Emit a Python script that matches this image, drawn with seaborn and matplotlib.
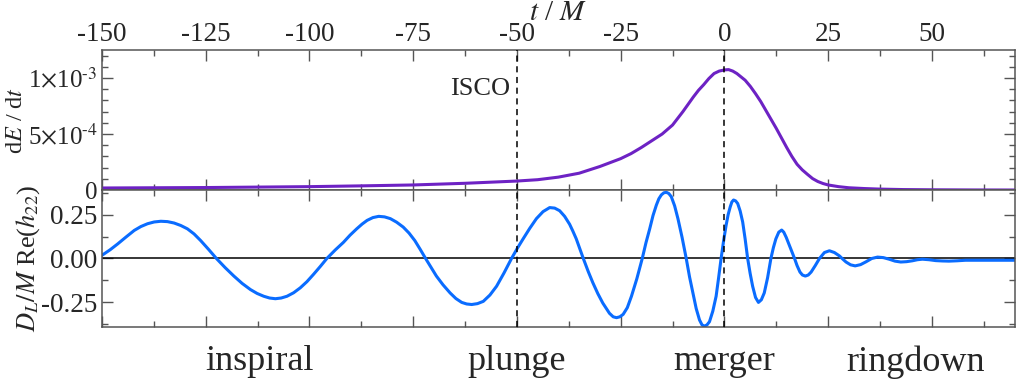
import numpy as np
import matplotlib
matplotlib.use('Agg')
import matplotlib.pyplot as plt
from matplotlib.ticker import MultipleLocator
import seaborn as sns

sns.set_style('ticks')
plt.rcParams['font.family'] = ['Liberation Serif', 'DejaVu Serif']
plt.rcParams['mathtext.fontset'] = 'stix'
plt.rcParams['axes.unicode_minus'] = False

# energy flux dE/dt (units of 1e-4)
t_flux = [-150, -137.5, -125, -112.5, -100, -87.5, -75, -62.5, -55, -50, -45, -40, -35,
          -30, -27.5, -25, -22.5, -20, -17.5, -15, -12.5, -11.25, -10, -8.75, -7.5,
          -6.25, -5, -3.75, -2.5, -1.25, 0, 1, 2, 3, 4, 5, 6.25, 7.5, 8.75, 10,
          11.25, 12.5, 13.75, 15, 16.25, 17.5, 18.75, 20, 21.25, 22.5, 23.75, 25,
          27.5, 30, 33.75, 37.5, 43, 50, 60, 70]
flux = [0.18, 0.2, 0.22, 0.26, 0.3, 0.37, 0.45, 0.6, 0.72, 0.8, 0.92, 1.15, 1.5,
        2.1, 2.45, 2.8, 3.25, 3.8, 4.4, 5.0, 5.8, 6.4, 7.0, 7.65, 8.3,
        8.9, 9.4, 9.95, 10.4, 10.62, 10.72, 10.75, 10.62, 10.4, 10.1, 9.8, 9.25, 8.6, 7.9, 7.1,
        6.3, 5.5, 4.65, 3.8, 3.0, 2.3, 1.8, 1.4, 1.02, 0.76, 0.58, 0.45,
        0.3, 0.2, 0.13, 0.08, 0.04, 0.02, 0.005, 0.0]

# waveform D_L/M Re(h22)
t_wave = [-150, -148, -146.2, -144.2, -142.2, -140.6, -139.0, -137.4, -135.8, -134.2,
          -132.6, -131.0, -129.4, -127.8, -126.2, -124.3, -122.4, -120.3, -118.2, -116.2,
          -114.2, -112.6, -111.0, -109.6, -108.2, -106.8, -105.4, -103.8, -102.2, -100.6,
          -99.0, -97.4, -95.8, -93.8, -91.8, -90.2, -88.6, -87.3, -86.1, -84.7,
          -83.3, -81.9, -80.5, -79.0, -77.4, -76.0, -74.6, -73.3, -72.0, -70.7,
          -69.4, -67.8, -66.1, -64.7, -63.3, -62.1, -60.9, -59.5, -58.1, -56.5,
          -54.9, -53.1, -51.3, -49.9, -48.5, -46.9, -45.3, -43.7, -42.1, -40.9,
          -39.7, -38.5, -37.3, -36.5, -35.7, -34.0, -32.8, -31.7, -30.5, -29.3,
          -27.7, -26.8, -26.0, -25.2, -24.4, -23.4, -22.4, -21.1, -19.8, -18.9,
          -18.0, -17.2, -16.4, -15.8, -15.2, -14.6, -14.0, -13.4, -12.8, -12.0,
          -11.2, -10.2, -9.2, -8.4, -7.6, -6.8, -6.0, -5.4, -4.8, -4.2,
          -3.6, -2.8, -2.0, -1.4, -0.8, -0.2, 0.4, 0.9, 1.4, 1.8,
          2.2, 2.7, 3.2, 3.8, 4.4, 5.0, 5.6, 6.2, 6.8, 7.5,
          8.2, 8.9, 9.6, 10.4, 11.2, 11.8, 12.4, 13.1, 13.8, 14.3,
          14.9, 15.9, 16.9, 17.5, 18.2, 18.8, 19.5, 20.2, 20.9, 21.9,
          22.9, 24.1, 25.3, 26.5, 27.7, 28.5, 29.3, 30.4, 31.5, 32.8,
          34.1, 35.5, 36.9, 38.3, 39.7, 41.1, 42.5, 43.9, 45.3, 46.5,
          47.7, 49.3, 50.9, 52.5, 54.1, 56.1, 58.1, 62.9, 70]
wave = [0.018, 0.050, 0.083, 0.122, 0.160, 0.182, 0.198, 0.208, 0.212, 0.210,
        0.202, 0.188, 0.169, 0.140, 0.102, 0.052, 0.0, -0.052, -0.100, -0.142,
        -0.177, -0.199, -0.215, -0.225, -0.229, -0.225, -0.215, -0.195, -0.167, -0.132,
        -0.090, -0.046, 0.0, 0.048, 0.092, 0.133, 0.169, 0.196, 0.217, 0.233,
        0.240, 0.237, 0.227, 0.207, 0.179, 0.145, 0.102, 0.052, 0.0, -0.050,
        -0.100, -0.150, -0.196, -0.228, -0.250, -0.259, -0.262, -0.257, -0.244, -0.208,
        -0.158, -0.082, 0.0, 0.058, 0.112, 0.172, 0.227, 0.267, 0.290, 0.287,
        0.272, 0.240, 0.195, 0.155, 0.112, 0.0, -0.075, -0.138, -0.200, -0.254,
        -0.312, -0.332, -0.337, -0.332, -0.318, -0.280, -0.215, -0.115, 0.0, 0.090,
        0.169, 0.245, 0.304, 0.340, 0.362, 0.374, 0.377, 0.370, 0.352, 0.300,
        0.227, 0.120, 0.0, -0.105, -0.196, -0.285, -0.350, -0.378, -0.385, -0.378,
        -0.360, -0.300, -0.215, -0.110, 0.0, 0.100, 0.188, 0.250, 0.294, 0.322,
        0.333, 0.328, 0.313, 0.270, 0.208, 0.110, 0.0, -0.085, -0.158, -0.222,
        -0.250, -0.235, -0.196, -0.110, 0.0, 0.062, 0.112, 0.150, 0.162, 0.150,
        0.120, 0.060, 0.0, -0.040, -0.077, -0.094, -0.100, -0.094, -0.077, -0.040,
        0.0, 0.034, 0.044, 0.034, 0.015, -0.003, -0.020, -0.036, -0.042, -0.035,
        -0.019, 0.0, 0.008, 0.005, -0.004, -0.015, -0.020, -0.018, -0.013, -0.007,
        -0.004, -0.007, -0.012, -0.014, -0.015, -0.013, -0.010, -0.010, -0.010]

event_t = [-50, 0]
phase_names = ['inspiral', 'plunge', 'merger', 'ringdown']
phase_t = [-112, -50, 0, 46]

purple = '#6d22c4'
blue = '#0a6cff'
frame = '#555555'

fig = plt.figure(figsize=(10.19, 3.82), dpi=100)
ax1 = fig.add_axes([0.100, 0.5026, 0.896, 0.3665])
ax2 = fig.add_axes([0.100, 0.144, 0.896, 0.3586], sharex=ax1)

sns.lineplot(x=t_flux, y=np.array(flux) * 1e-4, ax=ax1, color=purple, lw=2.2)
sns.lineplot(x=t_wave, y=wave, ax=ax2, color=blue, lw=2.2)
ax2.axhline(0, color='black', lw=1.1, zorder=1)

for ax in (ax1, ax2):
    for te in event_t:
        ax.axvline(te, color='black', lw=1.1, ls=(0, (4, 3)), zorder=3)
    for s in ax.spines.values():
        s.set_color(frame)
        s.set_linewidth(1.1)
    ax.tick_params(which='both', direction='in', top=True, right=True,
                   color=frame, labelsize=19.5, width=1.0)
    ax.tick_params(which='major', length=8)
    ax.tick_params(which='minor', length=4.5)
    ax.xaxis.set_major_locator(MultipleLocator(25))
    ax.xaxis.set_minor_locator(MultipleLocator(12.5))

ax1.set_xlim(-150, 70)
ax1.set_ylim(0, 1.25e-3)
ax1.set_yticks([0, 5e-4, 1e-3])
ax1.set_yticklabels(['0', r'5$\times$10$^{\text{-4}}$', r'1$\times$10$^{\text{-3}}$'])
ax1.tick_params(axis='y', labelsize=18, pad=3)
ax1.yaxis.set_minor_locator(MultipleLocator(1e-4))
ax1.tick_params(axis='x', which='both', labeltop=True, labelbottom=False, pad=2)
ax1.xaxis.set_label_position('top')
ax1.set_xlabel(r'$t$ / $M$', fontsize=21, va='baseline')
ax1.xaxis.set_label_coords(0.5, 1.215)
ax1.set_ylabel(r'd$E$ / d$t$', fontsize=17.5)
ax1.yaxis.set_label_coords(-0.0821, 0.5)
ax1.text(-51.5, 9.0e-4, 'ISCO', fontsize=19, ha='right', va='center')

ax2.set_ylim(-0.39, 0.39)
ax2.set_yticks([-0.25, 0, 0.25])
ax2.set_yticklabels(['-0.25', '0.00', '0.25'])
ax2.yaxis.set_minor_locator(MultipleLocator(0.125))
ax2.tick_params(axis='x', which='both', labelbottom=False, labeltop=False)
ax2.set_ylabel(r'$D_L/M$ Re($h_{22}$)', fontsize=19)
ax2.yaxis.set_label_coords(-0.066, 0.5)

for name, tp in zip(phase_names, phase_t):
    ax2.text(tp, -0.255, name, transform=ax2.get_xaxis_transform(),
             fontsize=26, ha='center', va='center')

fig.savefig('out.png', dpi=100)
